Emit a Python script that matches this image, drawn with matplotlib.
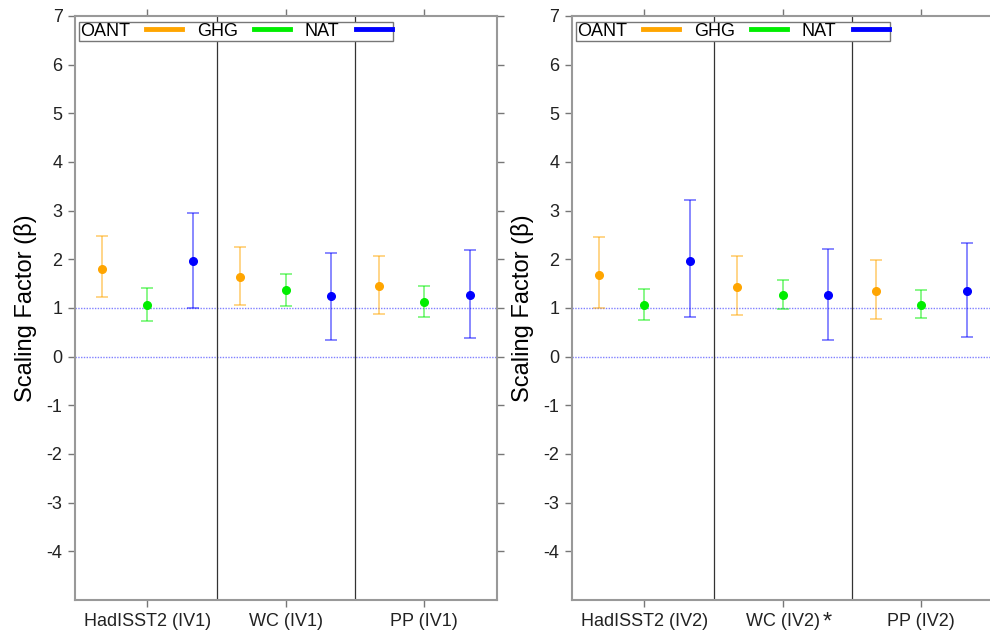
import matplotlib
matplotlib.use("Agg")
import matplotlib.pyplot as plt
import matplotlib.transforms as mtransforms
import numpy as np

plt.rcParams['font.family'] = ['Liberation Sans', 'DejaVu Sans']

series = ["OANT", "GHG", "NAT"]
colors = ["#FFA500", "#00EE00", "#0000FF"]

labels_iv1 = ["HadISST2 (IV1)", "WC (IV1)", "PP (IV1)"]
labels_iv2 = ["HadISST2 (IV2)", "WC (IV2)", "PP (IV2)"]

# best estimates [dataset][series]
best_iv1 = [[1.81, 1.07, 1.96], [1.64, 1.36, 1.24], [1.46, 1.13, 1.27]]
low_iv1 = [[1.22, 0.74, 1.01], [1.07, 1.05, 0.35], [0.88, 0.82, 0.38]]
high_iv1 = [[2.47, 1.42, 2.96], [2.25, 1.69, 2.14], [2.07, 1.46, 2.19]]

best_iv2 = [[1.68, 1.06, 1.96], [1.44, 1.26, 1.26], [1.35, 1.07, 1.35]]
low_iv2 = [[1.00, 0.75, 0.81], [0.86, 0.98, 0.34], [0.77, 0.80, 0.40]]
high_iv2 = [[2.45, 1.39, 3.21], [2.07, 1.57, 2.22], [1.99, 1.37, 2.33]]

yticks = list(range(-4, 8))

fig = plt.figure(figsize=(9.9, 6.32), dpi=100)
W, H = 990.0, 632.0
ax1 = fig.add_axes([75 / W, 1 - 600 / H, 422 / W, 584 / H])
ax2 = fig.add_axes([572 / W, 1 - 600 / H, 422 / W, 584 / H])

offsets = [-0.33, 0.0, 0.33]
spine_col = "#999999"

def draw(ax, best, low, high, xlabels):
    ax.set_xlim(0.478, 3.525)
    ax.set_ylim(-5, 7)
    for yl in [0, 1]:
        ax.axhline(yl, color="#8080ff", lw=1.0, ls=(0, (1, 1)), zorder=1)
    for sep in [1.5, 2.5]:
        ax.axvline(sep, color="#333333", lw=0.9, zorder=1)
    pos = np.arange(1, 4)
    for j, (name, c) in enumerate(zip(series, colors)):
        x = pos + offsets[j]
        b = np.array([best[i][j] for i in range(3)])
        lo = np.array([low[i][j] for i in range(3)])
        hi = np.array([high[i][j] for i in range(3)])
        ax.errorbar(x, b, yerr=[b - lo, hi - b], fmt="none", ecolor=c,
                    alpha=0.5, elinewidth=1.3, capsize=4, capthick=1.3, zorder=2)
        ax.plot(x, b, "o", color=c, ms=5.5, mec=c, zorder=3)
        ax.plot([], [], color=c, lw=3.5, label=name)
    ax.set_xticks(pos)
    ax.set_xticklabels(xlabels, fontsize=13, color="#222222")
    ax.set_yticks(yticks)
    ax.set_yticklabels([str(t) for t in yticks], fontsize=13, color="#222222")
    ax.tick_params(axis="both", direction="out", length=5, width=1,
                   color="#777777", top=True, right=True, pad=4)
    for s in ax.spines.values():
        s.set_color(spine_col)
        s.set_linewidth(1.5)
    ax.set_ylabel("Scaling Factor (β)", fontsize=17, labelpad=7)
    leg = ax.legend(loc="upper left", bbox_to_anchor=(0.01, 0.99), ncol=3,
                    markerfirst=False, fontsize=13, frameon=True, fancybox=False,
                    borderaxespad=0, handlelength=2.0, handletextpad=0.9,
                    columnspacing=0.8, borderpad=0.05, framealpha=1)
    leg.get_frame().set_edgecolor("#777777")
    leg.get_frame().set_linewidth(1.0)

draw(ax1, best_iv1, low_iv1, high_iv1, labels_iv1)
draw(ax2, best_iv2, low_iv2, high_iv2, labels_iv2)

trans = mtransforms.blended_transform_factory(ax2.transData, ax2.transAxes)
ax2.text(2.32, -0.02, "*", transform=trans, fontsize=17, ha="center", va="top",
         color="#222222")

fig.savefig("out.png", dpi=100)
